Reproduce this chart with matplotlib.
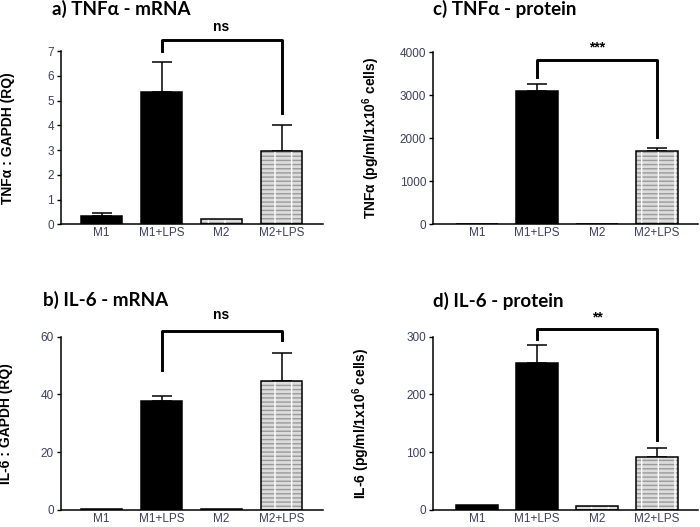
import matplotlib
matplotlib.use('Agg')
import matplotlib.pyplot as plt

plt.rcParams['font.family'] = ['Liberation Sans', 'DejaVu Sans']
plt.rcParams['mathtext.fontset'] = 'custom'
plt.rcParams['mathtext.rm'] = 'Liberation Sans'
plt.rcParams['mathtext.bf'] = 'Liberation Sans:bold'

groups = ['M1', 'M1+LPS', 'M2', 'M2+LPS']

# a) TNFa mRNA
tnf_mrna = [0.34, 5.33, 0.21, 2.98]
tnf_mrna_sem = [0.10, 1.21, 0.0, 1.04]
# b) IL-6 mRNA
il6_mrna = [0.3, 37.8, 0.3, 44.8]
il6_mrna_sem = [0.0, 1.8, 0.0, 9.6]
# c) TNFa protein
tnf_prot = [0, 3100, 0, 1712]
tnf_prot_sem = [0, 156, 0, 69]
# d) IL-6 protein
il6_prot = [8, 254, 7, 91]
il6_prot_sem = [0, 32, 0, 16]

tick_col = '#3f3f5f'
title_font = ['Lato', 'DejaVu Sans']

fig = plt.figure(figsize=(7, 5.27), dpi=100)


def draw_panel(rect, xlim, vals, sems, ytop, yticks, ylabel, labx,
               title, title_xy, bracket, sig, sig_y):
    ax = fig.add_axes(rect)
    x = list(range(len(groups)))
    for i in x:
        if i < 2:
            ax.bar(i, vals[i], width=0.69, color='black', edgecolor='black', linewidth=1.1, zorder=2)
        else:
            # grey patterned bars
            ax.bar(i, vals[i], width=0.69, color='#dcdcdc', edgecolor='#9a9a9a',
                   hatch='----', linewidth=0, zorder=2)
            ax.bar(i, vals[i], width=0.69, fill=False, edgecolor='white',
                   hatch='|', linewidth=0, zorder=2)
            ax.bar(i, vals[i], width=0.69, fill=False, edgecolor='black', linewidth=1.1, zorder=3)
        if sems[i] > 0:
            ax.errorbar(i, vals[i], yerr=[[0], [sems[i]]], fmt='none', ecolor='black',
                        elinewidth=1.1, capsize=7.5, capthick=1.1, zorder=1)
    ax.set_xlim(*xlim)
    ax.set_ylim(0, ytop)
    ax.set_xticks(x)
    ax.set_xticklabels(groups)
    ax.set_yticks(yticks)
    for s in ['top', 'right']:
        ax.spines[s].set_visible(False)
    for s in ['left', 'bottom']:
        ax.spines[s].set_linewidth(1.1)
    ax.tick_params(axis='y', length=3, width=1, pad=2, labelsize=8.5, labelcolor=tick_col)
    ax.tick_params(axis='x', length=0, pad=2, labelsize=8.5, labelcolor=tick_col)
    ax.set_ylabel(ylabel, fontsize=10, fontweight='bold')
    ax.yaxis.set_label_coords(labx, 0.5)

    left_end, top, right_end = bracket
    ax.plot([1, 1, 3, 3], [left_end, top, top, right_end], color='black', lw=2.1,
            clip_on=False, solid_joinstyle='round')
    ax.text(2, sig_y, sig, ha='center', va='center', fontsize=10, fontweight='bold')

    fig.text(title_xy[0] / 700, 1 - title_xy[1] / 527, title, ha='left', va='center',
             fontsize=13.5, fontweight='bold', family=title_font)
    return ax


draw_panel([61 / 700, 1 - 224.3 / 527, 262 / 700, 173.3 / 527], (-0.675, 3.69),
           tnf_mrna, tnf_mrna_sem, 7, range(0, 8),
           'TNF\u03b1 : GAPDH (RQ)', -0.176,
           'a) TNF\u03b1 - mRNA', (52, 9), (6.98, 7.43, 4.49), 'ns', 7.96)

draw_panel([433 / 700, 1 - 224.3 / 527, 265 / 700, 172 / 527], (-0.733, 3.68),
           tnf_prot, tnf_prot_sem, 4000, range(0, 4001, 1000),
           'TNF\u03b1 (pg/ml/1x10$^{\\mathbf{6}}$ cells)', -0.194,
           'c) TNF\u03b1 - protein', (433, 9), (3418, 3820, 2037), '***', 4120)

draw_panel([61 / 700, 1 - 510 / 527, 262 / 700, 173.3 / 527], (-0.675, 3.69),
           il6_mrna, il6_mrna_sem, 60, range(0, 61, 20),
           'IL-6 : GAPDH (RQ)', -0.182,
           'b) IL-6 - mRNA', (43, 300), (48.6, 62.1, 59.0), 'ns', 67.6)

draw_panel([433 / 700, 1 - 510 / 527, 265 / 700, 173.3 / 527], (-0.733, 3.68),
           il6_prot, il6_prot_sem, 300, range(0, 301, 100),
           'IL-6 (pg/ml/1x10$^{\\mathbf{6}}$ cells)', -0.231,
           'd) IL-6 - protein', (433, 301), (296, 313.8, 121.7), '**', 333)

fig.savefig('out.png', dpi=100)
